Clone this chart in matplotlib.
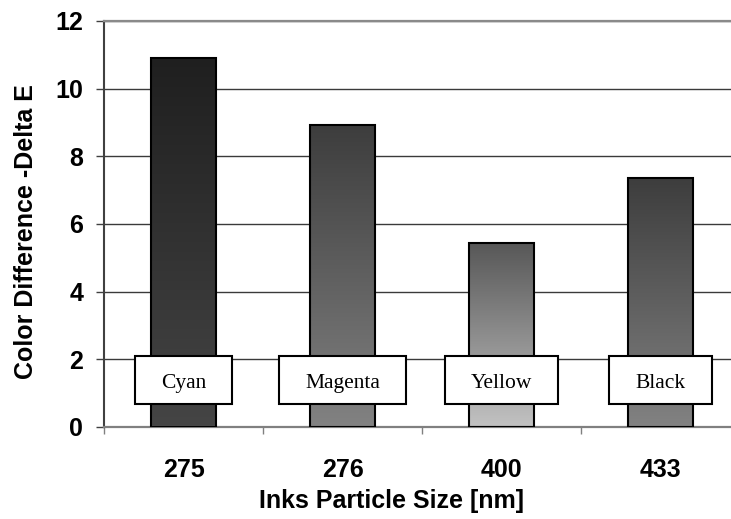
import numpy as np
import matplotlib
matplotlib.use("Agg")
import matplotlib.pyplot as plt
from matplotlib.colors import LinearSegmentedColormap
from matplotlib.patches import Rectangle

particle_size = ["275", "276", "400", "433"]
ink_names = ["Cyan", "Magenta", "Yellow", "Black"]
delta_e = [10.92, 8.93, 5.45, 7.36]

# top and bottom colour of each bar's vertical gradient
shade_top = ["#1f1f1f", "#3d3d3d", "#575757", "#3d3d3d"]
shade_bottom = ["#454545", "#828282", "#c2c2c2", "#828282"]

plt.rcParams["font.family"] = ["Liberation Sans", "DejaVu Sans"]

fig = plt.figure(figsize=(7.31, 5.19), dpi=100)
ax = fig.add_axes([0.1423, 0.1773, 0.870, 0.7823])

x = np.arange(len(particle_size))
bars = ax.bar(x, delta_e, width=0.41, facecolor="none", edgecolor="black",
              linewidth=1.5, zorder=3)

grad = np.linspace(0, 1, 256).reshape(-1, 1)
for bar, top, bottom in zip(bars, shade_top, shade_bottom):
    cmap = LinearSegmentedColormap.from_list("bar_shade", [top, bottom])
    x0, w, h = bar.get_x(), bar.get_width(), bar.get_height()
    im = ax.imshow(grad, cmap=cmap, aspect="auto", extent=(x0, x0 + w, 0, h),
                   origin="upper", interpolation="bilinear", zorder=2)
    im.set_clip_path(bar)

ax.set_xlim(-0.5, 3.5)
ax.set_ylim(0, 12)
ax.set_aspect("auto")

# axes frame and grid
ax.set_yticks(range(0, 13, 2))
ax.yaxis.grid(True, color="#3a3a3a", linewidth=1)
ax.set_axisbelow(True)
ax.spines["right"].set_visible(False)
ax.spines["top"].set_color("#8a8a8a")
ax.spines["top"].set_linewidth(1.6)
ax.spines["left"].set_color("#404040")
ax.spines["left"].set_linewidth(1.5)
ax.spines["bottom"].set_color("#808080")
ax.spines["bottom"].set_linewidth(1.6)

ax.tick_params(axis="y", direction="out", length=6, width=1, color="#404040",
               labelsize=18, pad=9)
ax.set_xticks(x)
ax.set_xticklabels(particle_size)
ax.set_xticks(np.arange(-0.5, 4, 1), minor=True)
ax.tick_params(axis="x", which="major", length=0, labelsize=18, pad=22)
ax.tick_params(axis="x", which="minor", direction="out", length=5, width=1,
               color="#808080")
for lbl in ax.get_xticklabels() + ax.get_yticklabels():
    lbl.set_fontweight("bold")

ax.set_xlabel("Inks Particle Size [nm]", fontsize=18, fontweight="bold")
ax.xaxis.set_label_coords(0.452, -0.1527)
ax.set_ylabel("Color Difference -Delta E", fontsize=18, fontweight="bold")
ax.yaxis.set_label_coords(-0.104, 0.4815)

# ink name boxes sitting over the lower part of each bar
labels = []
for xi, name in zip(x, ink_names):
    t = ax.text(xi, 1.16, name, family=["Liberation Serif", "DejaVu Serif"],
                fontsize=15.5, ha="center", va="baseline", zorder=6)
    labels.append(t)

fig.canvas.draw()
renderer = fig.canvas.get_renderer()
inv = ax.transData.inverted()
pad_px = 26
for t in labels:
    bb = t.get_window_extent(renderer)
    left = inv.transform((bb.x0 - pad_px, 0))[0]
    right = inv.transform((bb.x1 + pad_px, 0))[0]
    ax.add_patch(Rectangle((left, 0.68), right - left, 1.42, facecolor="white",
                           edgecolor="black", linewidth=1.5, zorder=5))

fig.savefig("out.png", dpi=100)
